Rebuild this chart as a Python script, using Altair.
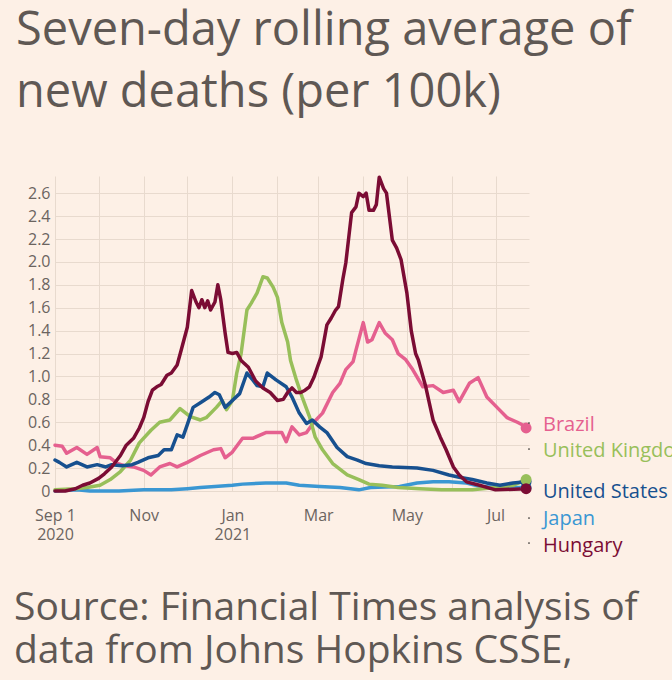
import altair as alt
import pandas as pd

# ---------------- data ----------------
brazil_dates = ["2020-09-01", "2020-09-06", "2020-09-09", "2020-09-16", "2020-09-23", "2020-09-30",
                "2020-10-02", "2020-10-09", "2020-10-14", "2020-10-19", "2020-10-25", "2020-11-01",
                "2020-11-06", "2020-11-12", "2020-11-19", "2020-11-24", "2020-12-01", "2020-12-10",
                "2020-12-19", "2020-12-24", "2020-12-27", "2021-01-01", "2021-01-08", "2021-01-15",
                "2021-01-24", "2021-02-04", "2021-02-07", "2021-02-11", "2021-02-16", "2021-02-21",
                "2021-02-26", "2021-03-04", "2021-03-11", "2021-03-16", "2021-03-20", "2021-03-25",
                "2021-03-27", "2021-04-01", "2021-04-04", "2021-04-07", "2021-04-12", "2021-04-16",
                "2021-04-21", "2021-04-25", "2021-04-30", "2021-05-05", "2021-05-12", "2021-05-19",
                "2021-05-26", "2021-06-02", "2021-06-06", "2021-06-13", "2021-06-19", "2021-06-25",
                "2021-07-02", "2021-07-09", "2021-07-16", "2021-07-19", "2021-07-22"]
brazil_values = [0.40, 0.39, 0.33, 0.38, 0.32, 0.38,
                 0.30, 0.29, 0.24, 0.22, 0.21, 0.18,
                 0.14, 0.21, 0.24, 0.21, 0.25, 0.31,
                 0.36, 0.37, 0.29, 0.34, 0.46, 0.46,
                 0.51, 0.51, 0.43, 0.56, 0.49, 0.51,
                 0.60, 0.68, 0.86, 0.94, 1.06, 1.13,
                 1.23, 1.47, 1.30, 1.32, 1.47, 1.38,
                 1.32, 1.20, 1.15, 1.06, 0.91, 0.92,
                 0.86, 0.88, 0.78, 0.94, 0.99, 0.82,
                 0.73, 0.64, 0.60, 0.58, 0.55]

uk_dates = ["2020-09-01", "2020-09-15", "2020-09-23", "2020-10-02", "2020-10-09", "2020-10-16",
            "2020-10-23", "2020-10-29", "2020-11-06", "2020-11-12", "2020-11-19", "2020-11-26",
            "2020-12-03", "2020-12-10", "2020-12-14", "2020-12-21", "2020-12-25", "2020-12-28",
            "2021-01-01", "2021-01-04", "2021-01-07", "2021-01-11", "2021-01-14", "2021-01-18",
            "2021-01-22", "2021-01-25", "2021-01-29", "2021-02-01", "2021-02-04", "2021-02-08",
            "2021-02-10", "2021-02-14", "2021-02-18", "2021-02-23", "2021-02-27", "2021-03-04",
            "2021-03-11", "2021-03-21", "2021-03-29", "2021-04-05", "2021-04-14", "2021-04-25",
            "2021-05-10", "2021-05-25", "2021-06-15", "2021-07-01", "2021-07-13", "2021-07-22"]
uk_values = [0.01, 0.02, 0.03, 0.05, 0.10, 0.17,
             0.27, 0.42, 0.53, 0.60, 0.62, 0.72,
             0.65, 0.62, 0.64, 0.73, 0.79, 0.71,
             0.79, 1.03, 1.20, 1.58, 1.64, 1.73,
             1.87, 1.86, 1.78, 1.69, 1.47, 1.30,
             1.14, 0.97, 0.82, 0.65, 0.47, 0.36,
             0.24, 0.14, 0.10, 0.06, 0.05, 0.03,
             0.02, 0.01, 0.01, 0.03, 0.05, 0.10]

us_dates = ["2020-09-01", "2020-09-04", "2020-09-09", "2020-09-16", "2020-09-23", "2020-09-30",
            "2020-10-06", "2020-10-10", "2020-10-17", "2020-10-24", "2020-10-28", "2020-11-04",
            "2020-11-11", "2020-11-15", "2020-11-20", "2020-11-24", "2020-11-28", "2020-12-01",
            "2020-12-05", "2020-12-10", "2020-12-16", "2020-12-20", "2020-12-23", "2020-12-27",
            "2021-01-01", "2021-01-06", "2021-01-11", "2021-01-15", "2021-01-18", "2021-01-22",
            "2021-01-25", "2021-01-31", "2021-02-07", "2021-02-11", "2021-02-16", "2021-02-21",
            "2021-02-25", "2021-03-02", "2021-03-07", "2021-03-14", "2021-03-21", "2021-03-28",
            "2021-04-03", "2021-04-12", "2021-04-21", "2021-05-08", "2021-05-19", "2021-05-30",
            "2021-06-06", "2021-06-15", "2021-06-25", "2021-07-04", "2021-07-13", "2021-07-22"]
us_values = [0.27, 0.25, 0.21, 0.25, 0.21, 0.23,
             0.21, 0.23, 0.22, 0.23, 0.25, 0.29,
             0.31, 0.36, 0.36, 0.49, 0.47, 0.58,
             0.73, 0.77, 0.82, 0.86, 0.84, 0.73,
             0.79, 0.85, 1.03, 0.97, 0.92, 0.91,
             1.03, 0.97, 0.91, 0.82, 0.68, 0.59,
             0.62, 0.56, 0.51, 0.38, 0.30, 0.27,
             0.24, 0.22, 0.21, 0.20, 0.18, 0.14,
             0.12, 0.10, 0.07, 0.05, 0.07, 0.08]

japan_dates = ["2020-09-01", "2020-09-16", "2020-09-25", "2020-10-15", "2020-11-01", "2020-11-20",
               "2020-12-01", "2020-12-10", "2020-12-20", "2021-01-01", "2021-01-08", "2021-01-24",
               "2021-02-07", "2021-02-16", "2021-03-02", "2021-03-16", "2021-03-29", "2021-04-06",
               "2021-04-26", "2021-05-08", "2021-05-19", "2021-05-30", "2021-06-11", "2021-06-20",
               "2021-07-04", "2021-07-22"]
japan_values = [0.00, 0.01, 0.00, 0.00, 0.01, 0.01,
                0.02, 0.03, 0.04, 0.05, 0.06, 0.07,
                0.07, 0.05, 0.04, 0.03, 0.01, 0.03,
                0.04, 0.07, 0.08, 0.08, 0.07, 0.04,
                0.03, 0.03]

hungary_dates = ["2020-09-01", "2020-09-08", "2020-09-15", "2020-09-20", "2020-09-25", "2020-10-01",
                 "2020-10-05", "2020-10-10", "2020-10-16", "2020-10-20", "2020-10-25", "2020-10-29",
                 "2020-11-01", "2020-11-04", "2020-11-07", "2020-11-10", "2020-11-13", "2020-11-17",
                 "2020-11-20", "2020-11-24", "2020-11-27", "2020-12-01", "2020-12-04", "2020-12-07",
                 "2020-12-09", "2020-12-11", "2020-12-13", "2020-12-15", "2020-12-17", "2020-12-20",
                 "2020-12-22", "2020-12-24", "2020-12-27", "2020-12-29", "2021-01-01", "2021-01-04",
                 "2021-01-07", "2021-01-12", "2021-01-17", "2021-01-22", "2021-01-27", "2021-02-01",
                 "2021-02-05", "2021-02-08", "2021-02-11", "2021-02-14", "2021-02-17", "2021-02-20",
                 "2021-02-23", "2021-02-26", "2021-03-01", "2021-03-03", "2021-03-07", "2021-03-10",
                 "2021-03-13", "2021-03-15", "2021-03-18", "2021-03-20", "2021-03-24", "2021-03-27",
                 "2021-03-29", "2021-04-01", "2021-04-03", "2021-04-05", "2021-04-08", "2021-04-10",
                 "2021-04-12", "2021-04-15", "2021-04-17", "2021-04-21", "2021-04-24", "2021-04-27",
                 "2021-05-01", "2021-05-04", "2021-05-07", "2021-05-09", "2021-05-14", "2021-05-19",
                 "2021-05-24", "2021-05-28", "2021-06-02", "2021-06-06", "2021-06-11", "2021-06-20",
                 "2021-07-01", "2021-07-22"]
hungary_values = [0.00, 0.00, 0.02, 0.05, 0.07, 0.11,
                  0.15, 0.21, 0.31, 0.40, 0.46, 0.55,
                  0.64, 0.78, 0.88, 0.91, 0.93, 1.01,
                  1.03, 1.10, 1.24, 1.43, 1.75, 1.65,
                  1.60, 1.67, 1.60, 1.66, 1.58, 1.65,
                  1.80, 1.67, 1.38, 1.21, 1.20, 1.21,
                  1.14, 1.08, 0.96, 0.90, 0.86, 0.79,
                  0.80, 0.86, 0.90, 0.86, 0.86, 0.88,
                  0.91, 0.99, 1.10, 1.17, 1.45, 1.51,
                  1.58, 1.61, 1.85, 1.99, 2.43, 2.48,
                  2.60, 2.57, 2.60, 2.45, 2.45, 2.50,
                  2.74, 2.64, 2.60, 2.19, 2.12, 2.02,
                  1.73, 1.40, 1.20, 1.14, 0.91, 0.62,
                  0.47, 0.36, 0.21, 0.14, 0.08, 0.05,
                  0.01, 0.02]

countries = ["Brazil", "United Kingdom", "United States", "Japan", "Hungary"]
y_ticks = [round(i * 0.2, 1) for i in range(14)]

# ---------------- style ----------------
colors = {"Brazil": "#e5608f", "United Kingdom": "#98bf5a", "United States": "#17508f",
          "Japan": "#3a97d3", "Hungary": "#7b0c34"}
BG = "#fdf0e6"
TEXT = "#5f5854"
AXIS_TEXT = "#6b645f"
GRID = "#e8dace"
FONT = "Open Sans"
W, H = 474, 315
PAD = {"left": 55, "top": 176, "right": 143, "bottom": 189}
# legend label baselines and leader dots (pixel positions relative to plot)
label_y = {"Brazil": 255, "United Kingdom": 281, "United States": 322, "Japan": 349, "Hungary": 376}
leader_y = {"Brazil": 247, "United Kingdom": 273, "Japan": 342, "Hungary": 367}

frames = {
    "Brazil": (brazil_dates, brazil_values),
    "United Kingdom": (uk_dates, uk_values),
    "United States": (us_dates, us_values),
    "Japan": (japan_dates, japan_values),
    "Hungary": (hungary_dates, hungary_values),
}

month_ticks = []
for y, m in [(2020, 9), (2020, 10), (2020, 11), (2020, 12), (2021, 1), (2021, 2), (2021, 3),
             (2021, 4), (2021, 5), (2021, 6), (2021, 7)]:
    month_ticks.append(alt.DateTime(year=y, month=m, date=1, utc=True))

x_label_expr = (
    "utcmonth(datum.value) % 2 == 1 ? '' : "
    "(utcmonth(datum.value) == 8 ? [utcFormat(datum.value, '%b %-d'), utcFormat(datum.value, '%Y')] : "
    "(utcmonth(datum.value) == 0 ? [utcFormat(datum.value, '%b'), utcFormat(datum.value, '%Y')] : "
    "utcFormat(datum.value, '%b')))"
)

x_enc = alt.X(
    "date:T",
    scale=alt.Scale(type="utc", domain=[alt.DateTime(year=2020, month=9, date=1, utc=True),
                                        alt.DateTime(year=2021, month=7, date=24, utc=True)]),
    axis=alt.Axis(values=month_ticks, labelExpr=x_label_expr, grid=True, gridColor=GRID,
                  gridWidth=1, domain=False, ticks=False, labelPadding=16, labelFontSize=16,
                  labelFont=FONT, labelColor=AXIS_TEXT, labelLineHeight=19, labelOverlap=False,
                  labelFlush=False, labelBound=False, title=None),
)
y_enc = alt.Y(
    "value:Q",
    scale=alt.Scale(domain=[0, 2.75], nice=False, zero=True),
    axis=alt.Axis(values=y_ticks, labelExpr="datum.value == 0 ? '0' : format(datum.value, '.1f')",
                  grid=True, gridColor=GRID, gridWidth=1, domain=False, ticks=False,
                  labelPadding=5, labelFontSize=16, labelFont=FONT, labelColor=AXIS_TEXT,
                  labelBound=False, labelFlush=False, title=None),
)

layers = []
draw_order = ["Brazil", "Japan", "United Kingdom", "United States", "Hungary"]
for c in draw_order:
    d, v = frames[c]
    df = pd.DataFrame({"date": d, "value": v, "country": c})
    layers.append(
        alt.Chart(df).mark_line(strokeWidth=3.5, color=colors[c], strokeJoin="round", strokeCap="round")
        .encode(x=x_enc, y=y_enc)
    )

dot_order = ["Japan", "United States", "Brazil", "United Kingdom", "Hungary"]
for c in dot_order:
    d, v = frames[c]
    df = pd.DataFrame({"date": [d[-1]], "value": [v[-1]], "country": [c]})
    layers.append(
        alt.Chart(df).mark_circle(size=120, opacity=1, color=colors[c]).encode(x=x_enc, y=y_enc)
    )

one = pd.DataFrame({"k": [0]})

for c in countries:
    layers.append(
        alt.Chart(one).mark_text(text=c, align="left", baseline="alphabetic", fontSize=20,
                                 font=FONT, color=colors[c])
        .encode(x=alt.value(488), y=alt.value(label_y[c]))
    )

for c, ly in leader_y.items():
    layers.append(
        alt.Chart(one).mark_circle(size=3, color="#33302e", opacity=1)
        .encode(x=alt.value(474), y=alt.value(ly))
    )

title_lines = ["Seven-day rolling average of", "new deaths (per 100k)"]
source_lines = ["Source: Financial Times analysis of", "data from Johns Hopkins CSSE,"]
for i, t in enumerate(title_lines):
    layers.append(
        alt.Chart(one).mark_text(text=t, align="left", baseline="alphabetic", fontSize=47,
                                 font=FONT, color=TEXT)
        .encode(x=alt.value(-39), y=alt.value(-131 + 62 * i))
    )
for i, t in enumerate(source_lines):
    layers.append(
        alt.Chart(one).mark_text(text=t, align="left", baseline="alphabetic", fontSize=39,
                                 font=FONT, color=TEXT)
        .encode(x=alt.value(-41), y=alt.value(444 + 43 * i))
    )

chart = (
    alt.layer(*layers)
    .properties(width=W, height=H, padding=PAD, background=BG,
                autosize=alt.AutoSizeParams(type="none"))
    .configure_view(stroke=None)
)

chart.save("out.html", embed_options={"renderer": "svg", "actions": False})
